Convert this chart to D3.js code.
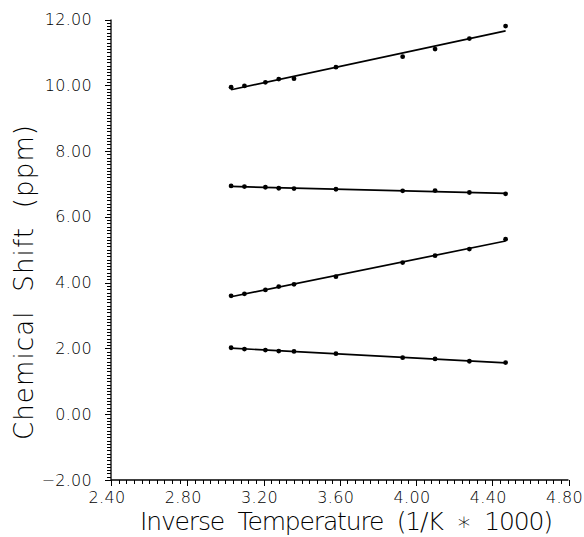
<!DOCTYPE html>
<html>
<head>
<meta charset="utf-8">
<script src="https://cdnjs.cloudflare.com/ajax/libs/d3/7.8.5/d3.min.js"></script>
<style>
	body { margin: 0; background: #fff; }
	text { font-family: "DejaVu Sans", sans-serif; font-weight: 200; fill: #000; }
</style>
</head>
<body>
<svg id="chart" width="584" height="537"></svg>
<script>

// inverse temperature (1/K * 1000) of the measured points
var inverseTemp = [3.03, 3.10, 3.21, 3.28, 3.36, 3.58, 3.93, 4.10, 4.28, 4.47];

// chemical shift (ppm) per resonance
var shiftA = [9.94, 9.98, 10.09, 10.19, 10.20, 10.55, 10.87, 11.10, 11.42, 11.80];
var shiftB = [6.94, 6.92, 6.90, 6.87, 6.86, 6.84, 6.79, 6.80, 6.74, 6.70];
var shiftC = [3.60, 3.66, 3.78, 3.88, 3.95, 4.18, 4.61, 4.82, 5.02, 5.32];
var shiftD = [2.02, 1.98, 1.95, 1.92, 1.91, 1.84, 1.72, 1.68, 1.61, 1.57];

var allSeries = [shiftA, shiftB, shiftC, shiftD];

var xTicks = [2.40, 2.80, 3.20, 3.60, 4.00, 4.40, 4.80];
var yTicks = [-2, 0, 2, 4, 6, 8, 10, 12];

var xScale = d3.scaleLinear().domain([2.4, 4.8]).range([111, 568.5]);
var yScale = d3.scaleLinear().domain([-2, 12]).range([480, 19.5]);

var svg = d3.select("#chart");


// least squares fit of one series against inverseTemp
function fitLine(values) {

	var mx = d3.mean(inverseTemp);
	var my = d3.mean(values);
	var num = d3.sum(inverseTemp, function(x, i) { return (x - mx) * (values[i] - my); });
	var den = d3.sum(inverseTemp, function(x) { return (x - mx) * (x - mx); });
	var slope = num / den;

	var x0 = inverseTemp[0];
	var x1 = inverseTemp[inverseTemp.length - 1];

	return [[x0, my + slope * (x0 - mx)], [x1, my + slope * (x1 - mx)]];
}


function drawAxes() {

	var axis = svg.append("g")
				.attr("class", "axis")
				.style("stroke", "#000")
				.style("stroke-width", 1.3);

	axis.append("line")
		.attr("x1", xScale(2.4)).attr("x2", xScale(2.4))
		.attr("y1", yScale(-2)).attr("y2", yScale(12));

	axis.append("line")
		.attr("x1", xScale(2.4)).attr("x2", xScale(4.8))
		.attr("y1", yScale(-2)).attr("y2", yScale(-2));

	// minor ticks every 0.1 ppm, major every 2
	var yMinor = d3.range(-20, 121).map(function(i) { return i / 10; });

	axis.selectAll(".ytick")
		.data(yMinor).enter()
		.append("line")
		.attr("class", "ytick")
		.attr("x1", function(d) { return Math.abs(d / 2 - Math.round(d / 2)) < 1e-6 ? xScale(2.4) - 6 : xScale(2.4) - 4; })
		.attr("x2", xScale(2.4))
		.attr("y1", function(d) { return Math.round(yScale(d)) + 0.5; })
		.attr("y2", function(d) { return Math.round(yScale(d)) + 0.5; })
		.style("stroke-width", 1);

	// minor ticks every 0.04, major every 0.4
	var xMinor = d3.range(60, 121).map(function(i) { return i / 25; });

	axis.selectAll(".xtick")
		.data(xMinor).enter()
		.append("line")
		.attr("class", "xtick")
		.attr("x1", function(d) { return Math.round(xScale(d)) + 0.5; })
		.attr("x2", function(d) { return Math.round(xScale(d)) + 0.5; })
		.attr("y1", yScale(-2))
		.attr("y2", function(d, i) { return i % 10 === 0 ? yScale(-2) + 6 : yScale(-2) + 4; })
		.style("stroke-width", 1);

	svg.selectAll(".ylabel")
		.data(yTicks).enter()
		.append("text")
		.attr("class", "ylabel")
		.attr("x", 92)
		.attr("y", function(d) { return yScale(d) + 5.5; })
		.attr("text-anchor", "end")
		.style("font-size", "16px")
		.style("letter-spacing", "0.3px")
		.text(function(d) { return d.toFixed(2).replace("-", "\u2212"); });

	svg.selectAll(".xlabel")
		.data(xTicks).enter()
		.append("text")
		.attr("class", "xlabel")
		.attr("x", function(d) { return xScale(d) - 4; })
		.attr("y", 503)
		.attr("text-anchor", "middle")
		.style("font-size", "16px")
		.style("letter-spacing", "0.3px")
		.text(function(d) { return d.toFixed(2); });

	svg.append("text")
		.attr("x", 140)
		.attr("y", 530)
		.attr("textLength", 413)
		.attr("lengthAdjust", "spacing")
		.style("font-size", "25px")
		.style("white-space", "pre")
		.text("Inverse  Temperature  (1/K  \u2217  1000)");

	svg.append("text")
		.attr("transform", "translate(33,440) rotate(-90)")
		.attr("textLength", 315)
		.attr("lengthAdjust", "spacing")
		.style("font-size", "26px")
		.style("white-space", "pre")
		.text("Chemical  Shift  (ppm)");
}


function drawSeries() {

	var group = svg.selectAll(".series")
				.data(allSeries).enter()
				.append("g")
				.attr("class", "series");

	group.append("line")
		.attr("x1", function(d) { return xScale(fitLine(d)[0][0]); })
		.attr("y1", function(d) { return yScale(fitLine(d)[0][1]); })
		.attr("x2", function(d) { return xScale(fitLine(d)[1][0]); })
		.attr("y2", function(d) { return yScale(fitLine(d)[1][1]); })
		.style("stroke", "#000")
		.style("stroke-width", 1.7);

	group.selectAll("circle")
		.data(function(d) { return d; }).enter()
		.append("circle")
		.attr("cx", function(d, i) { return xScale(inverseTemp[i]); })
		.attr("cy", function(d) { return yScale(d); })
		.attr("r", 2.4)
		.style("fill", "#000");
}


drawAxes();
drawSeries();

</script>
</body>
</html>
